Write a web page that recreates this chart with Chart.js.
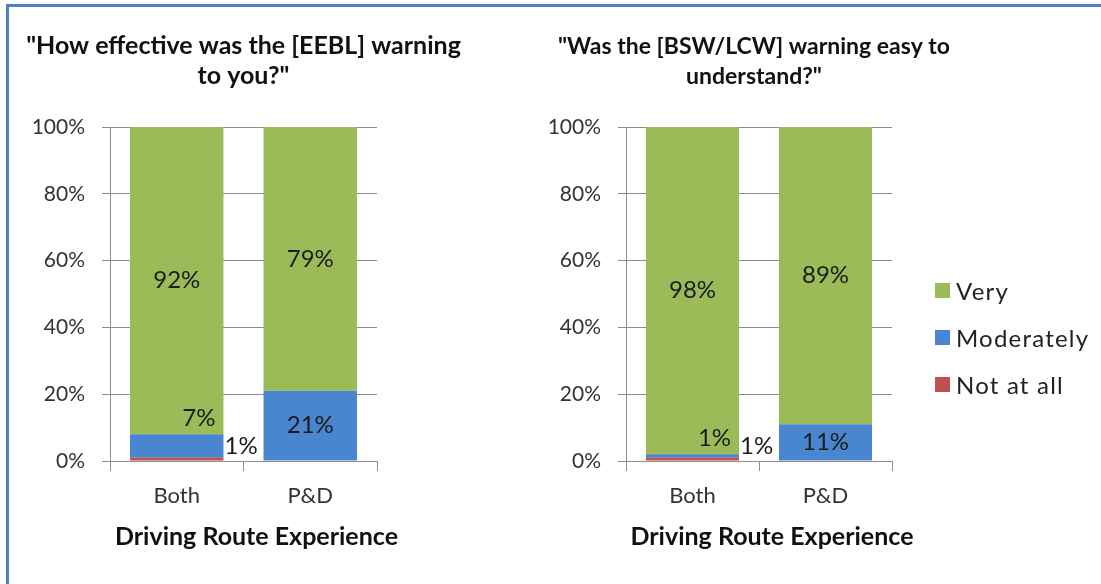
<!DOCTYPE html>
<html>
<head>
<meta charset="utf-8">
<title>Warning ratings by driving route</title>
<script src="https://cdn.jsdelivr.net/npm/chart.js@4.4.1/dist/chart.umd.min.js"></script>
<style>
  body { margin: 0; background: #fff; }
  #page { position: relative; width: 1101px; height: 584px; overflow: hidden; background: #fff; font-family: Lato, sans-serif; }
  #frame { position: absolute; left: 6px; top: 4px; right: -10px; bottom: -10px; border-top: 3px solid #4f81bd; border-left: 3px solid #4f81bd; }
  #c1 { position: absolute; left: 0; top: 0; }
  #c2 { position: absolute; left: 516px; top: 0; }
  #legend { position: absolute; left: 935px; top: 267px; }
  .item { display: flex; align-items: center; height: 47px; font-size: 24px; color: #222; letter-spacing: 1.2px; }
  .swatch { width: 15px; height: 15px; margin-right: 6px; }
</style>
</head>
<body>
<div id="page">
  <div id="frame"></div>
  <canvas id="c1" width="540" height="584"></canvas>
  <canvas id="c2" width="585" height="584"></canvas>
  <div id="legend"></div>
</div>
<script>
let categories = ["Both", "P&D"];
let seriesNames = ["Not at all", "Moderately", "Very"];
let seriesColors = ["#c0504d", "#4a86cf", "#9bbb59"];

// EEBL chart
let eeblNotAtAll = [1, 0];
let eeblModerately = [7, 21];
let eeblVery = [92, 79];

// BSW/LCW chart
let bswNotAtAll = [1, 0];
let bswModerately = [1, 11];
let bswVery = [98, 89];

let yTicks = [0, 20, 40, 60, 80, 100];
let axisTitle = "Driving Route Experience";

let gridColor = "#8c8c8c";
let textColor = "#333";

// value labels on the segments, small ones moved out like Excel did
const segmentLabels = {
  id: "segmentLabels",
  afterDatasetsDraw(chart) {
    const ctx = chart.ctx;
    ctx.save();
    ctx.font = "24px Lato";
    ctx.fillStyle = "#1c1c1c";
    ctx.textBaseline = "middle";
    chart.data.datasets.forEach(function (ds, i) {
      chart.getDatasetMeta(i).data.forEach(function (bar, j) {
        let v = ds.data[j];
        if (!v) return;
        let text = v + "%";
        let right = bar.x + bar.width / 2;
        if (ds.label === "Not at all") {
          ctx.textAlign = "left";
          ctx.fillText(text, right + 1, bar.base - 14);
        } else if (v < 10) {
          ctx.textAlign = "right";
          ctx.fillText(text, right - 8, bar.y - 16);
        } else {
          ctx.textAlign = "center";
          ctx.fillText(text, bar.x, (bar.y + bar.base) / 2);
        }
      });
    });
    ctx.restore();
  },
};

// chart title + axis title
const headings = {
  id: "headings",
  afterDraw(chart, args, opts) {
    const ctx = chart.ctx;
    const area = chart.chartArea;
    const cx = (area.left + area.right) / 2;
    ctx.save();
    ctx.fillStyle = "#111";
    ctx.textAlign = "center";
    ctx.textBaseline = "alphabetic";
    ctx.font = "bold " + opts.size + "px Lato";
    opts.lines.forEach(function (line, k) {
      ctx.fillText(line, cx + opts.shift, area.top - 73 + k * 30);
    });
    ctx.font = "bold 25px Lato";
    ctx.fillText(axisTitle, cx + 13, area.bottom + 84);
    ctx.restore();
  },
};

function makeChart(id, lines, size, shift, padRight, notAtAll, moderately, very) {
  let values = [notAtAll, moderately, very];
  return new Chart(document.getElementById(id), {
    type: "bar",
    data: {
      labels: categories,
      datasets: seriesNames.map(function (name, i) {
        return {
          label: name,
          data: values[i],
          backgroundColor: seriesColors[i],
          borderWidth: 0,
          barPercentage: 0.7,
          categoryPercentage: 1,
        };
      }),
    },
    options: {
      responsive: false,
      animation: false,
      layout: { padding: { top: 127, right: padRight, left: 0, bottom: 0 } },
      plugins: {
        legend: { display: false },
        tooltip: { enabled: false },
        headings: { lines: lines, size: size, shift: shift },
      },
      scales: {
        x: {
          stacked: true,
          grid: { drawOnChartArea: false, tickLength: 10, color: gridColor, offset: true },
          border: { color: gridColor },
          ticks: { padding: 12, color: textColor, font: { family: "Lato", size: 22 } },
          afterFit: function (s) { s.height = 123; },
        },
        y: {
          stacked: true,
          min: 0,
          max: 100,
          afterBuildTicks: function (s) { s.ticks = yTicks.map(function (v) { return { value: v }; }); },
          ticks: {
            padding: 17,
            color: textColor,
            font: { family: "Lato", size: 21 },
            callback: function (v) { return v + "%"; },
          },
          grid: { color: gridColor, tickLength: 8 },
          border: { color: gridColor },
          afterFit: function (s) { s.width = 110; },
        },
      },
    },
    plugins: [segmentLabels, headings],
  });
}

makeChart("c1", ['"How effective was the [EEBL] warning', 'to you?"'], 25, 0, 163,
  eeblNotAtAll, eeblModerately, eeblVery);
let chart2 = makeChart("c2", ['"Was the [BSW/LCW] warning easy to', 'understand?"'], 23, -5, 209,
  bswNotAtAll, bswModerately, bswVery);

// shared legend, top entry first
let legend = document.getElementById("legend");
chart2.data.datasets.slice().reverse().forEach(function (ds) {
  let row = document.createElement("div");
  row.className = "item";
  row.innerHTML = '<span class="swatch" style="background:' + ds.backgroundColor + '"></span>' + ds.label;
  legend.appendChild(row);
});
</script>
</body>
</html>
